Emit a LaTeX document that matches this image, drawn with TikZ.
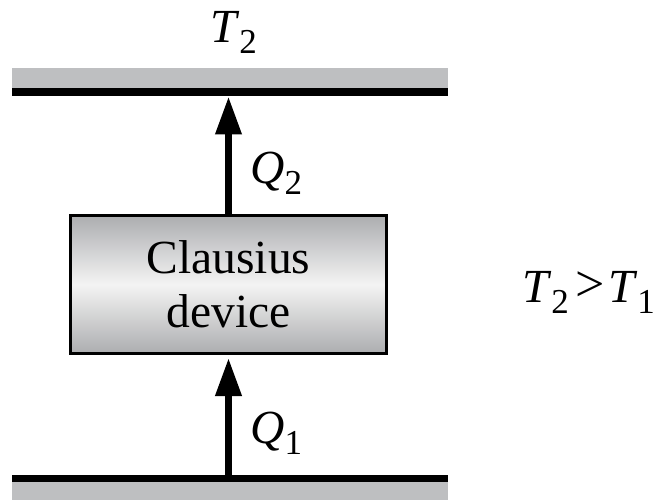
\documentclass[tikz,border=0pt]{standalone}
\usepackage{fontspec}
\setmainfont{Liberation Serif}
\usetikzlibrary{arrows.meta}
\definecolor{bargray}{RGB}{190,191,193}
\definecolor{edgegray}{RGB}{172,173,175}
\definecolor{centregray}{RGB}{244,244,244}
\newcommand{\subidx}[1]{\raisebox{-11pt}{\fontsize{35}{37}\selectfont #1}}
\tikzset{
  bigtext/.style={font=\fontsize{47.5}{54}\selectfont, inner sep=0pt},
  devbox/.style={draw=black, line width=3pt, left color=edgegray, right color=edgegray, middle color=centregray, shading angle=0,
    minimum width=316pt, minimum height=138pt, inner sep=0pt, align=center, font=\fontsize{47.5}{54}\selectfont},
  heat/.style={line width=7pt, -{Triangle[length=38pt,width=25pt]}},
  labeltext/.style={bigtext, anchor=base west}
}
\begin{document}
\begin{tikzpicture}[x=1pt,y=-1pt]
\useasboundingbox (0,0) rectangle (659,500);
% reservoirs
\fill[bargray] (12,68) rectangle (448,89);
\fill[black] (12,88.5) rectangle (448,96);
\fill[black] (12,475) rectangle (448,482);
\fill[bargray] (12,481.5) rectangle (448,500);
\coordinate (topbar) at (228.5,96.5);
\coordinate (botbar) at (228.5,475.5);
% device
\node[devbox] (dev) at (228.5,284.5) {Clausius\\device};
% heat flows
\draw[heat] (dev.north) -- (topbar);
\draw[heat] (botbar) -- ([yshift=-3pt]dev.south);
% labels
\node[labeltext] (t2) at (210,43) {\textit{T}\subidx{2}};
\node[labeltext] (q2) at (250,184) {\textit{Q}\subidx{2}};
\node[labeltext] (q1) at (250,443) {\textit{Q}\subidx{1}};
\node[labeltext] (ineq) at (522,302) {\textit{T}\subidx{2}\hspace{7pt}\raisebox{1pt}{\fontsize{52}{52}\selectfont >}\hspace{3pt}\textit{T}\subidx{1}};
\end{tikzpicture}
\end{document}
